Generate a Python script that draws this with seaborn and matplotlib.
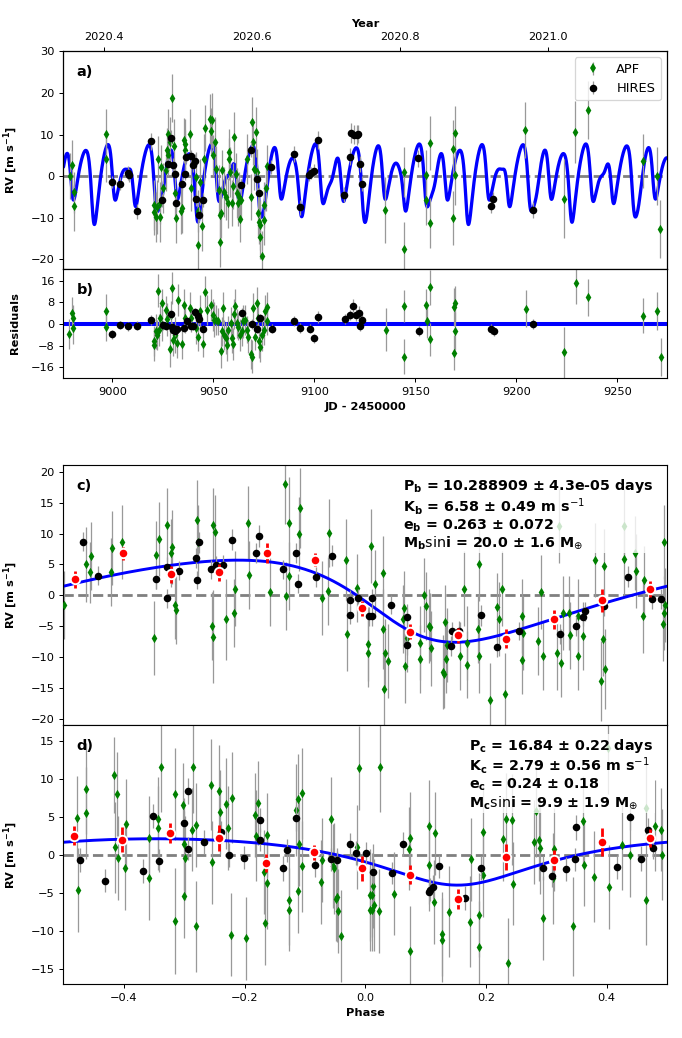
import numpy as np
import matplotlib
matplotlib.use("Agg")
import matplotlib.pyplot as plt
import seaborn as sns

# ---------------- data ----------------
# Panel a: time series (JD-2450000, RV, err)
apf_a = [
    (8979.2, 0.1, 5.5), (8980.0, 2.8, 6.0), (8980.8, -3.9, 5.0), (8980.8, -7.2, 6.0),
    (8996.7, 10.1, 6.0), (8996.7, 4.1, 5.5), (9020.7, -6.9, 6.0), (9020.7, -8.7, 5.5),
    (9021.9, -7.3, 6.5), (9021.4, -9.7, 6.0), (9022.7, 4.2, 5.5), (9023.5, -9.7, 6.0),
    (9023.5, -6.5, 5.0), (9024.3, 2.1, 5.5), (9025.2, -2.9, 6.0), (9026.5, 1.4, 5.0),
    (9027.6, 10.2, 6.0), (9027.1, 6.2, 5.5), (9027.6, 5.0, 5.0), (9028.4, 8.2, 6.0),
    (9029.6, 18.8, 5.8), (9030.6, 7.2, 6.5), (9030.9, -4.1, 5.5), (9031.4, -10.1, 6.0),
    (9034.2, -8.3, 5.5), (9034.7, -7.7, 6.0), (9035.5, 8.6, 5.5), (9036.1, 7.8, 6.0),
    (9035.8, 6.2, 5.0), (9038.6, 10.2, 6.0), (9039.1, -2.9, 5.5), (9041.2, -0.2, 6.0),
    (9042.4, -8.3, 5.0), (9042.4, -16.5, 6.0), (9043.5, -1.4, 5.5), (9044.5, -11.9, 6.0),
    (9045.7, 11.6, 5.5), (9045.3, 4.2, 6.0), (9048.5, 13.8, 6.0), (9049.4, 13.4, 6.5),
    (9049.0, 10.8, 5.5), (9049.8, 5.0, 5.0), (9050.6, 8.2, 6.0), (9051.4, 1.8, 5.5),
    (9052.7, -3.3, 6.0), (9053.5, -9.3, 5.5), (9054.0, -8.9, 6.0), (9053.5, -15.9, 6.0),
    (9054.4, 1.4, 5.0), (9055.5, -3.7, 6.0), (9056.3, -4.9, 5.5), (9057.2, -6.5, 6.0),
    (9057.6, 5.8, 5.5), (9057.7, 4.2, 5.0), (9058.3, 1.0, 6.0), (9059.3, -6.5, 5.5),
    (9060.4, 9.4, 6.0), (9059.6, -2.4, 5.5), (9061.3, 0.6, 5.0), (9061.6, -4.1, 6.0),
    (9062.4, -6.5, 5.5), (9062.9, -4.9, 6.0), (9063.4, -10.3, 5.5), (9063.7, -5.7, 5.0),
    (9066.5, 4.2, 6.0), (9068.6, -4.9, 5.5), (9069.1, 13.0, 6.0), (9069.5, 8.2, 5.5),
    (9070.3, 1.8, 5.0), (9071.1, 10.6, 6.0), (9071.4, 1.0, 5.5), (9072.3, -8.9, 6.0),
    (9072.7, -10.9, 5.5), (9073.2, -11.7, 6.0), (9073.2, -14.5, 5.5), (9074.1, -19.1, 6.0),
    (9074.9, -6.9, 5.5), (9075.2, -10.5, 6.0), (9076.0, -2.9, 5.5), (9076.4, 2.4, 5.0),
    (9135.1, -8.1, 8.0), (9144.2, 1.0, 6.0), (9144.2, -17.5, 6.5), (9155.2, 0.4, 6.0),
    (9155.2, -5.6, 6.0), (9157.3, 8.0, 6.5), (9157.3, -11.2, 6.0), (9168.4, 6.5, 7.0),
    (9169.5, 10.4, 6.5), (9169.5, 0.2, 7.0), (9168.4, -10.1, 6.5), (9204.2, 11.2, 6.7),
    (9223.5, -5.4, 9.5), (9229.2, 10.6, 7.5), (9235.3, 15.9, 7.0), (9262.5, 3.7, 6.5),
    (9269.5, 0.0, 7.0), (9271.2, -12.7, 7.0),
]
hires_a = [
    (9000.0, -1.4, 1.5), (9003.8, -1.8, 1.5), (9007.6, 0.8, 1.6), (9008.2, 0.2, 1.5),
    (9012.0, -8.4, 1.8), (9018.9, 8.4, 2.0), (9024.6, -5.8, 1.6), (9027.6, 3.0, 1.5),
    (9028.8, 9.2, 1.8), (9030.1, 2.8, 1.6), (9030.9, 0.6, 1.5), (9031.7, -6.4, 1.7),
    (9034.7, -1.8, 1.5), (9035.8, 0.6, 1.6), (9036.6, 4.6, 1.5), (9038.8, 4.8, 1.6),
    (9039.9, 2.6, 1.5), (9040.7, 3.7, 1.6), (9041.6, -5.5, 1.7), (9042.9, -9.3, 1.8),
    (9044.9, -5.7, 1.6), (9063.7, -2.2, 1.6), (9068.6, 6.4, 1.8), (9071.6, -0.6, 1.6),
    (9072.7, -4.1, 1.5), (9078.5, 2.2, 1.7), (9089.7, 5.3, 2.0), (9092.7, -7.5, 1.8),
    (9097.3, 0.4, 1.6), (9098.5, 0.8, 1.5), (9099.7, 1.3, 1.6), (9101.7, 8.7, 2.2),
    (9114.6, -4.5, 1.8), (9117.7, 4.7, 2.0), (9118.2, 10.4, 2.4), (9119.8, 10.0, 2.2),
    (9121.0, 9.8, 2.4), (9121.8, 10.2, 2.2), (9122.6, 2.9, 2.0), (9123.4, -1.8, 1.8),
    (9151.4, 4.3, 2.0), (9187.3, -7.1, 1.8), (9188.4, -5.5, 1.8), (9208.2, -8.1, 2.0),
]

# Panel b: residuals (JD-2450000, residual, err)
apf_b = [
    (8978.7, -3.7, 5.5), (8979.9, 3.9, 6.0), (8980.7, 2.1, 5.0), (8980.7, -1.4, 6.0),
    (8996.7, 4.9, 6.0), (8996.7, -1.0, 5.5), (9020.8, -7.8, 6.0), (9020.8, -6.2, 5.5),
    (9021.5, -2.8, 6.5), (9022.4, 12.3, 6.0), (9022.0, -4.1, 5.5), (9023.1, -2.2, 6.0),
    (9023.6, 2.1, 5.0), (9024.8, 7.6, 5.5), (9024.4, -0.4, 6.0), (9026.6, 5.2, 5.0),
    (9027.2, 1.7, 6.0), (9028.6, -9.4, 6.5), (9028.9, 3.3, 5.0), (9029.7, 13.2, 6.0),
    (9030.2, -5.9, 5.8), (9031.0, -4.1, 6.5), (9031.9, -7.1, 5.5), (9032.7, 8.9, 6.0),
    (9034.3, -7.4, 5.5), (9035.5, 7.0, 6.0), (9036.0, 2.1, 5.5), (9038.5, 5.8, 6.0),
    (9038.8, 2.1, 5.0), (9041.4, -1.6, 6.0), (9042.6, -4.7, 5.5), (9043.4, 4.6, 6.0),
    (9044.7, -7.4, 5.0), (9045.9, 11.9, 6.0), (9046.7, 5.2, 5.5), (9048.7, 7.0, 6.0),
    (9049.7, 3.3, 6.0), (9050.3, 1.5, 6.5), (9051.3, 1.5, 5.5), (9052.5, 0.9, 5.0),
    (9053.8, -10.2, 6.0), (9054.5, -2.8, 5.5), (9055.0, 5.8, 6.0), (9055.3, -4.1, 5.5),
    (9056.1, -5.3, 6.0), (9056.6, -7.8, 6.0), (9057.4, -2.2, 5.0), (9058.6, 0.2, 6.0),
    (9059.4, -5.3, 5.5), (9059.9, -7.4, 6.0), (9060.2, 3.6, 5.5), (9060.7, 6.8, 6.0),
    (9061.6, 0.2, 5.5), (9062.4, -1.0, 5.0), (9063.2, -4.1, 6.0), (9064.0, -2.8, 5.5),
    (9064.9, 0.9, 6.0), (9065.7, 1.5, 5.5), (9066.5, -2.2, 5.0), (9067.3, -4.7, 6.0),
    (9068.5, -11.2, 5.5), (9069.3, -12.1, 6.0), (9069.5, 6.0, 5.5), (9070.6, -4.7, 5.0),
    (9071.5, 7.6, 6.0), (9072.3, 2.1, 5.5), (9072.8, -6.5, 6.0), (9073.1, -8.4, 5.5),
    (9073.9, -4.1, 6.0), (9075.1, -2.2, 5.5), (9075.6, 4.6, 6.0), (9076.4, 6.4, 5.5),
    (9076.4, 0.9, 5.0),
    (9135.5, -2.2, 8.0), (9144.6, 6.6, 6.0), (9144.6, -12.1, 6.5), (9155.3, 7.0, 6.0),
    (9155.8, 0.9, 6.0), (9157.5, 13.5, 6.5), (9157.5, -5.7, 6.0), (9168.9, 6.4, 7.0),
    (9169.7, 7.6, 6.5), (9169.7, -2.6, 7.0), (9168.9, -10.6, 6.5), (9204.8, 5.7, 6.7),
    (9223.8, -10.5, 9.5), (9229.6, 15.0, 7.5), (9235.6, 9.8, 7.0), (9262.9, 3.0, 6.5),
    (9269.8, 4.8, 7.0), (9271.5, -12.3, 7.0),
]
hires_b = [
    (9000.0, -3.9, 1.5), (9003.8, -0.4, 1.5), (9007.9, -0.9, 1.6), (9012.0, -0.6, 1.5),
    (9019.0, 1.4, 1.8), (9024.9, -0.5, 1.6), (9026.6, -0.7, 1.5), (9028.9, 3.6, 1.8),
    (9029.4, -1.0, 1.6), (9030.2, -2.2, 1.5), (9031.0, -2.8, 1.7), (9031.9, -2.0, 1.5),
    (9035.5, -1.4, 1.6), (9036.8, 0.9, 1.5), (9038.9, -0.6, 1.6), (9040.1, -0.7, 1.5),
    (9040.9, 4.3, 1.6), (9042.2, 3.1, 1.7), (9043.1, 1.8, 1.8), (9045.0, -2.0, 1.6),
    (9064.0, 4.2, 1.6), (9069.0, 0.0, 1.8), (9071.8, -1.8, 1.6), (9073.1, 2.1, 1.5),
    (9078.9, -1.8, 1.7), (9089.9, 1.1, 2.0), (9092.9, -1.6, 1.8), (9097.9, -1.8, 1.6),
    (9099.8, -5.3, 1.6), (9102.0, 2.5, 2.2), (9115.1, 1.8, 1.8), (9117.7, 3.3, 2.0),
    (9119.0, 6.8, 2.4), (9120.5, 3.3, 2.2), (9122.0, 4.2, 2.4), (9122.8, -0.6, 2.2),
    (9123.7, 1.5, 2.0), (9151.7, -2.6, 2.0), (9187.6, -1.8, 1.8), (9188.7, -2.8, 1.8),
    (9208.5, 0.0, 2.0),
]

# Panel c: phase-folded on planet b (phase, RV, err)
apf_c = [
    (-0.499, -1.5, 5.5), (-0.462, 5.0, 6.0), (-0.454, 6.3, 5.5), (-0.456, 3.7, 5.0),
    (-0.419, 7.7, 6.0), (-0.421, 3.8, 5.5), (-0.403, 8.6, 6.0), (-0.350, -6.9, 6.0),
    (-0.347, 6.5, 5.5), (-0.341, 9.1, 6.0), (-0.328, 11.4, 6.0), (-0.322, 6.8, 5.5),
    (-0.320, 7.8, 6.0), (-0.316, -1.5, 5.5), (-0.314, -2.4, 5.5), (-0.279, 12.2, 6.5),
    (-0.277, 8.6, 6.0), (-0.254, -5.0, 5.5), (-0.253, -6.7, 7.5), (-0.252, 11.4, 6.0),
    (-0.249, 10.3, 6.0), (-0.230, -3.9, 6.5), (-0.217, -2.9, 5.5), (-0.215, 1.1, 6.0),
    (-0.195, 11.7, 6.0), (-0.193, 3.3, 5.5), (-0.157, 0.5, 5.5), (-0.133, 18.0, 6.5),
    (-0.131, -0.1, 5.5), (-0.127, 11.7, 7.5), (-0.126, 3.1, 5.5), (-0.110, 9.9, 6.0),
    (-0.108, 14.1, 6.5), (-0.072, -0.4, 6.0), (-0.062, 0.7, 5.5), (-0.060, 10.1, 5.5),
    (-0.032, 5.8, 6.5), (-0.030, -6.3, 6.0), (-0.014, 1.2, 5.5), (0.004, -7.9, 6.0),
    (0.005, -9.3, 5.5), (0.009, 8.0, 6.0), (0.016, 1.9, 5.5), (0.030, 3.6, 6.0),
    (0.031, -15.1, 6.0), (0.029, -5.4, 6.5), (0.033, -9.3, 5.5), (0.037, -10.7, 6.0),
    (0.064, -2.1, 6.0), (0.063, -3.9, 5.5), (0.066, -11.5, 6.0), (0.069, -6.9, 5.5),
    (0.091, -7.7, 6.0), (0.090, -10.3, 5.5), (0.097, 0.0, 6.0), (0.101, -1.8, 5.5),
    (0.105, -5.0, 6.0), (0.107, -5.2, 5.5), (0.109, -8.6, 6.0), (0.129, -12.4, 6.0),
    (0.131, -12.8, 5.5), (0.132, -4.3, 6.0), (0.134, -10.3, 5.5), (0.136, -8.1, 6.0),
    (0.157, -9.8, 5.5), (0.164, 1.1, 6.0), (0.168, -11.2, 5.5), (0.168, -7.7, 6.0),
    (0.189, 5.1, 6.0), (0.187, -5.5, 5.5), (0.189, -9.8, 6.0), (0.206, -17.0, 6.0),
    (0.219, -1.9, 5.5), (0.221, -3.9, 6.0), (0.226, 1.1, 6.0), (0.231, -15.9, 6.5),
    (0.260, -3.4, 6.0), (0.260, -10.5, 5.5), (0.262, -6.1, 6.0), (0.287, -7.4, 5.5),
    (0.291, 0.6, 6.0), (0.294, -9.8, 5.5), (0.317, -9.4, 6.0), (0.325, -10.9, 5.5),
    (0.327, -2.9, 6.0), (0.339, -6.5, 5.5), (0.338, -2.9, 6.0), (0.352, -9.8, 5.5),
    (0.352, -3.4, 6.0), (0.360, -6.6, 5.5), (0.381, 5.7, 6.0), (0.390, -13.9, 6.5),
    (0.394, -7.0, 6.0), (0.396, 4.8, 6.0), (0.398, -11.9, 6.5), (0.429, 5.9, 6.0),
    (0.449, 3.9, 6.0), (0.460, -3.4, 6.0), (0.462, 2.5, 5.5), (0.493, -4.7, 6.0),
    (0.495, 8.7, 6.0), (0.495, -2.8, 6.0), (0.497, -1.6, 6.0), (0.321, 11.2, 6.0),
    (0.429, 11.2, 6.0), (0.447, 6.8, 6.0),
]
hires_c = [
    (-0.468, 8.7, 1.6), (-0.443, 3.2, 1.5), (-0.347, 2.6, 1.6), (-0.329, -0.5, 1.5),
    (-0.328, 4.6, 1.6), (-0.308, 4.0, 1.5), (-0.281, 6.1, 1.6), (-0.279, 2.5, 1.5),
    (-0.275, 8.6, 1.7), (-0.256, 4.2, 1.6), (-0.247, 4.9, 1.5), (-0.235, 4.9, 1.6),
    (-0.220, 9.0, 1.7), (-0.181, 6.8, 1.6), (-0.176, 9.6, 1.8), (-0.136, 4.2, 1.6),
    (-0.114, 6.9, 1.6), (-0.111, 1.9, 1.5), (-0.082, 3.0, 1.6), (-0.055, 6.4, 1.7),
    (-0.026, -0.8, 1.6), (-0.026, -3.2, 1.5), (-0.012, -0.5, 1.6), (0.007, -3.4, 1.5),
    (0.012, -0.5, 1.6), (0.011, -3.4, 1.5), (0.042, -1.5, 1.6), (0.069, -3.5, 1.5),
    (0.070, -8.0, 1.6), (0.142, -8.2, 1.6), (0.143, -5.8, 1.5), (0.155, -5.7, 1.6),
    (0.191, -3.2, 1.7), (0.218, -8.4, 1.6), (0.255, -5.8, 1.5), (0.323, -6.3, 1.6),
    (0.349, -5.0, 1.6), (0.361, -3.5, 1.5), (0.364, -2.6, 1.6), (0.395, -1.8, 1.6),
    (0.435, 3.0, 1.7), (0.475, -0.6, 1.6), (0.490, -0.6, 1.6),
]
bin_c = [
    (-0.481, 2.6, 1.35), (-0.402, 6.8, 1.0), (-0.322, 3.4, 1.35), (-0.243, 3.7, 1.35),
    (-0.163, 6.8, 1.6), (-0.084, 5.8, 1.1), (-0.005, -2.1, 1.2), (0.074, -5.9, 1.2),
    (0.154, -6.5, 1.2), (0.233, -7.0, 1.5), (0.313, -3.9, 1.6), (0.393, -0.8, 1.9),
    (0.472, 1.0, 1.35),
]

# Panel d: phase-folded on planet c (phase, RV, err)
apf_d = [
    (-0.477, 4.8, 5.5), (-0.476, -4.6, 5.5), (-0.463, 8.7, 6.0), (-0.462, 5.5, 6.0),
    (-0.416, 10.5, 5.0), (-0.411, 8.0, 5.5), (-0.414, 1.0, 6.0), (-0.409, -0.4, 5.5),
    (-0.398, -1.7, 5.5), (-0.397, 4.0, 6.0), (-0.358, 2.2, 5.5), (-0.358, -3.1, 5.5),
    (-0.344, 4.7, 5.5), (-0.344, 3.5, 5.5), (-0.339, 11.6, 6.0), (-0.316, 8.0, 6.0),
    (-0.315, -8.7, 7.0), (-0.302, 6.6, 5.5), (-0.301, 1.4, 6.0), (-0.300, -5.4, 5.5),
    (-0.299, -0.4, 5.5), (-0.286, 11.5, 6.0), (-0.287, 3.3, 5.5), (-0.280, 3.9, 5.5),
    (-0.281, -9.4, 6.0), (-0.256, 9.2, 6.0), (-0.254, -1.0, 5.5), (-0.242, 8.4, 6.0),
    (-0.241, 5.6, 5.5), (-0.230, 6.7, 6.0), (-0.228, 3.5, 5.5), (-0.221, 7.5, 6.0),
    (-0.223, -10.5, 5.5), (-0.198, -11.0, 5.5), (-0.183, 5.2, 5.5), (-0.181, 2.5, 6.0),
    (-0.177, 6.8, 5.5), (-0.162, 2.6, 5.5), (-0.167, -2.3, 5.5), (-0.163, -3.7, 6.0),
    (-0.166, -9.0, 5.5), (-0.127, -5.9, 6.0), (-0.126, -7.2, 5.5), (-0.115, 5.9, 6.0),
    (-0.112, 7.3, 6.0), (-0.104, 8.1, 6.0), (-0.110, 1.4, 5.5), (-0.105, -1.5, 6.0),
    (-0.112, -4.8, 5.5), (-0.072, -0.7, 5.5), (-0.073, -3.6, 5.5), (-0.056, 4.7, 5.5),
    (-0.054, -1.5, 5.5), (-0.052, -1.8, 6.0), (-0.048, -5.8, 5.5), (-0.046, -5.5, 6.0),
    (-0.045, -7.4, 5.5), (-0.041, -10.7, 6.0), (-0.011, 11.4, 5.5), (-0.013, 1.0, 5.5),
    (0.008, -5.3, 6.0), (0.008, -7.2, 5.5), (0.024, 11.6, 6.0), (0.013, -4.1, 5.5),
    (0.012, -5.3, 5.5), (0.015, -6.6, 6.0), (0.011, -7.2, 5.5), (0.023, -7.4, 5.5),
    (0.048, -5.1, 5.5), (0.074, 2.2, 6.0), (0.073, 0.8, 5.5), (0.074, -12.7, 6.0),
    (0.106, 3.8, 6.0), (0.116, 2.8, 5.5), (0.106, -1.4, 6.0), (0.114, -6.2, 5.5),
    (0.127, -10.4, 5.5), (0.128, -11.2, 5.5), (0.139, -7.5, 6.0), (0.176, -0.6, 5.5),
    (0.174, -8.8, 6.0), (0.188, -7.9, 5.5), (0.188, -12.1, 6.0), (0.195, 3.0, 6.0),
    (0.195, -2.7, 5.5), (0.228, 2.1, 5.5), (0.234, 4.7, 6.0), (0.243, 4.6, 6.0),
    (0.244, -3.8, 5.5), (0.237, -14.3, 6.0), (0.280, 1.7, 5.5), (0.283, 5.7, 6.0),
    (0.288, 2.0, 5.5), (0.290, 0.9, 6.0), (0.295, -8.3, 5.5), (0.312, 0.7, 5.5),
    (0.311, -3.1, 6.0), (0.345, -9.4, 6.5), (0.360, 4.4, 6.0), (0.363, -1.3, 5.5),
    (0.379, -2.9, 6.0), (0.404, -4.2, 5.5), (0.425, 1.3, 6.0), (0.438, 0.0, 5.5),
    (0.465, -5.9, 6.0), (0.480, 3.8, 6.0), (0.490, 3.3, 5.5), (0.491, 0.0, 6.0),
    (0.465, 6.1, 6.0), (0.403, 14.0, 6.0),
]
hires_d = [
    (-0.473, -0.7, 1.6), (-0.432, -3.4, 1.5), (-0.369, -2.1, 1.6), (-0.352, 5.1, 1.6),
    (-0.341, -0.8, 1.5), (-0.300, 4.2, 1.6), (-0.293, 8.4, 1.7), (-0.294, 0.8, 1.5),
    (-0.267, 1.7, 1.6), (-0.239, 3.0, 1.5), (-0.225, 0.0, 1.6), (-0.201, -0.4, 1.5),
    (-0.175, 4.6, 1.6), (-0.175, 2.0, 1.5), (-0.136, -1.8, 1.6), (-0.129, 0.6, 1.5),
    (-0.115, 4.8, 1.7), (-0.083, -1.3, 1.6), (-0.057, -0.6, 1.5), (-0.047, -0.7, 1.6),
    (-0.025, 1.4, 1.5), (-0.015, 0.2, 1.6), (0.001, 0.2, 1.5), (0.013, -2.3, 1.6),
    (0.045, -2.4, 1.5), (0.062, 1.4, 1.6), (0.105, -4.9, 1.6), (0.108, -4.6, 1.5),
    (0.113, -4.2, 1.6), (0.122, -1.5, 1.5), (0.165, -5.7, 1.6), (0.191, -1.7, 1.6),
    (0.295, -1.7, 1.6), (0.310, -2.8, 1.5), (0.333, -1.9, 1.6), (0.348, -0.6, 1.5),
    (0.350, 3.6, 1.6), (0.417, -1.6, 1.6), (0.438, 5.0, 1.7), (0.457, -0.5, 1.6),
    (0.469, 3.2, 1.6), (0.476, 0.9, 1.5),
]
bin_d = [
    (-0.483, 2.5, 1.27), (-0.403, 2.0, 1.7), (-0.323, 2.9, 1.3), (-0.243, 2.2, 1.7),
    (-0.164, -1.1, 1.2), (-0.085, 0.3, 1.0), (-0.005, -1.8, 1.7), (0.074, -2.6, 1.2),
    (0.154, -5.8, 1.27), (0.233, -0.3, 1.75), (0.313, -0.7, 1.3), (0.393, 1.7, 1.85),
    (0.472, 2.2, 1.2),
]

# Orbit fit parameters used for the model curves: P [d], Tc [JD-2450000], e, omega [deg], K [m/s]
orbit_b = [10.288909, 9174.78, 0.263, 123.0, 6.65]
orbit_c = [16.84, 9173.72, 0.31, 180.0, 3.05]

year_ticks = [2020.4, 2020.6, 2020.8, 2021.0]
year_labels = ["2020.4", "2020.6", "2020.8", "2021.0"]

text_b = [r"$\mathbf{P_b}$ = 10.288909 ± 4.3e-05 days",
          r"$\mathbf{K_b}$ = 6.58 ± 0.49 m s$^{-1}$",
          r"$\mathbf{e_b}$ = 0.263 ± 0.072",
          r"$\mathbf{M_b}\mathrm{sin}\mathbf{i}$ = 20.0 ± 1.6 M$_{\oplus}$"]
text_c = [r"$\mathbf{P_c}$ = 16.84 ± 0.22 days",
          r"$\mathbf{K_c}$ = 2.79 ± 0.56 m s$^{-1}$",
          r"$\mathbf{e_c}$ = 0.24 ± 0.18",
          r"$\mathbf{M_c}\mathrm{sin}\mathbf{i}$ = 9.9 ± 1.9 M$_{\oplus}$"]


# ---------------- helpers ----------------
def kepler_rv(t, P, tc, e, w_deg, K):
    w = np.radians(w_deg)
    f = np.pi / 2 - w
    E0 = 2 * np.arctan(np.sqrt((1 - e) / (1 + e)) * np.tan(f / 2))
    M0 = E0 - e * np.sin(E0)
    tp = tc - P / (2 * np.pi) * M0
    M = 2 * np.pi * (np.asarray(t) - tp) / P
    E = M.copy()
    for _ in range(60):
        E = E - (E - e * np.sin(E) - M) / (1 - e * np.cos(E))
    nu = 2 * np.arctan2(np.sqrt(1 + e) * np.sin(E / 2), np.sqrt(1 - e) * np.cos(E / 2))
    return K * (np.cos(nu + w) + e * np.cos(w))


def cols(rows):
    a = np.array(rows, dtype=float)
    return a[:, 0], a[:, 1], a[:, 2]


# ---------------- styling ----------------
sns.set_style("ticks", {"axes.edgecolor": "black", "xtick.color": "black",
                        "ytick.color": "black", "text.color": "black",
                        "axes.labelcolor": "black"})
plt.rcParams["font.family"] = ["DejaVu Sans"]
plt.rcParams["font.size"] = 9
plt.rcParams["mathtext.fontset"] = "dejavusans"
plt.rcParams["axes.linewidth"] = 0.9

DPI = 682 / 7.5
fig = plt.figure(figsize=((682 + 0.01) / DPI, (1038 + 0.01) / DPI), dpi=DPI)

L, W = 0.0931, 0.8849
ax_a = fig.add_axes([L, 0.7408, W, 0.2101])
ax_b = fig.add_axes([L, 0.6361, W, 0.1047])
ax_c = fig.add_axes([L, 0.3015, W, 0.2505])
ax_d = fig.add_axes([L, 0.0520, W, 0.2495])

GREEN = "green"
ECOL = "0.6"
S_APF = 28
S_HIR = 36


def draw_data(ax, apf, hires):
    x, y, e = cols(apf)
    ax.errorbar(x, y, yerr=e, fmt="none", ecolor=ECOL, elinewidth=1.0, capsize=0, zorder=2)
    sns.scatterplot(x=x, y=y, ax=ax, marker="d", color=GREEN, s=S_APF, linewidth=0,
                    zorder=3, legend=False)
    x, y, e = cols(hires)
    ax.errorbar(x, y, yerr=e, fmt="none", ecolor=ECOL, elinewidth=1.0, capsize=0, zorder=4)
    sns.scatterplot(x=x, y=y, ax=ax, marker="o", color="black", s=S_HIR, linewidth=0,
                    zorder=5, legend=False)


def panel_label(ax, lab, y):
    ax.text(0.022, y, lab, transform=ax.transAxes, fontsize=11.5, fontweight="bold",
            ha="left", va="center", zorder=20)


# ---------------- panel a ----------------
xlim_t = (8975.8, 9274.6)
tmod = np.linspace(xlim_t[0], xlim_t[1], 4000)
rvmod = kepler_rv(tmod, *orbit_b) + kepler_rv(tmod, *orbit_c)
ax_a.axhline(0, color="0.5", ls="--", lw=2.2, zorder=1)
sns.lineplot(x=tmod, y=rvmod, ax=ax_a, color="blue", lw=2.6, estimator=None, sort=False,
             zorder=1.5)
draw_data(ax_a, apf_a, hires_a)
h1 = ax_a.errorbar([np.nan], [np.nan], yerr=[1.0], fmt="d", color=GREEN, ecolor=ECOL,
                   ms=5.3, mew=0, elinewidth=1, label="APF")
h2 = ax_a.errorbar([np.nan], [np.nan], yerr=[1.0], fmt="o", color="black", ecolor=ECOL,
                   ms=6, mew=0, elinewidth=1, label="HIRES")
ax_a.legend(handles=[h1, h2], loc="upper right", fontsize=10.3, numpoints=1,
            framealpha=0.8, edgecolor="0.8")
ax_a.set_xlim(*xlim_t)
ax_a.set_ylim(-22.3, 30.1)
ax_a.set_yticks([-20, -10, 0, 10, 20, 30])
ax_a.tick_params(axis="x", bottom=False, labelbottom=False)
ax_a.set_xlabel("")
ax_a.set_ylabel(r"RV [m s$^{\mathbf{-1}}$]", fontweight="bold")
panel_label(ax_a, "a)", 0.905)

ax_top = ax_a.twiny()
ax_top.set_xlim(*xlim_t)
ax_top.set_xticks([8849.5 + (yv - 2020.0) * 366.0 for yv in year_ticks])
ax_top.set_xticklabels(year_labels)
ax_top.set_xlabel("Year", fontweight="bold")

# ---------------- panel b ----------------
ax_b.axhline(0, color="blue", lw=3.2, zorder=1)
draw_data(ax_b, apf_b, hires_b)
ax_b.set_xlim(*xlim_t)
ax_b.set_ylim(-19.9, 20.3)
ax_b.set_yticks([-16, -8, 0, 8, 16])
ax_b.set_xticks([9000, 9050, 9100, 9150, 9200, 9250])
ax_b.set_xlabel("JD - 2450000", fontweight="bold")
ax_b.set_ylabel("Residuals", fontweight="bold")
panel_label(ax_b, "b)", 0.807)


# ---------------- phase panels ----------------
def phase_panel(ax, apf, hires, binned, orbit, lines, lab, ylim, yticks, last):
    P, tc = orbit[0], orbit[1]
    ph = np.linspace(-0.5, 0.5, 1500)
    mod = kepler_rv(tc + ph * P, *orbit)
    ax.axhline(0, color="0.5", ls="--", lw=2.2, zorder=1)
    sns.lineplot(x=ph, y=mod, ax=ax, color="blue", lw=2.3, estimator=None, sort=False,
                 zorder=2.5)
    draw_data(ax, apf, hires)
    bx, by, be = cols(binned)
    ax.errorbar(bx, by, yerr=be, fmt="o", color="red", mfc="red", mec="white", mew=1.5,
                ms=7.5, ecolor="red", elinewidth=2.2, capsize=0, zorder=10)
    ax.set_xlim(-0.5, 0.5)
    ax.set_ylim(*ylim)
    ax.set_yticks(yticks)
    ax.set_xticks([-0.4, -0.2, 0.0, 0.2, 0.4])
    ax.set_ylabel(r"RV [m s$^{\mathbf{-1}}$]", fontweight="bold")
    if last:
        ax.set_xlabel("Phase", fontweight="bold")
    else:
        ax.tick_params(axis="x", bottom=False, labelbottom=False)
        ax.set_xlabel("")
    ax.text(0.977, 0.955, "\n".join(lines), transform=ax.transAxes, ha="right", va="top",
            ma="left", fontsize=11.3, fontweight="bold", linespacing=1.05, zorder=15,
            bbox=dict(facecolor="white", alpha=0.8, edgecolor="none", pad=1.5))
    panel_label(ax, lab, 0.919)


phase_panel(ax_c, apf_c, hires_c, bin_c, orbit_b, text_b, "c)", (-21.0, 21.1),
            [-20, -15, -10, -5, 0, 5, 10, 15, 20], False)
phase_panel(ax_d, apf_d, hires_d, bin_d, orbit_c, text_c, "d)", (-17.0, 17.06),
            [-15, -10, -5, 0, 5, 10, 15], True)

for ax in (ax_a, ax_b, ax_c, ax_d):
    ax.yaxis.set_label_coords(-0.072, 0.5)

fig.savefig("out.png", dpi=DPI)
